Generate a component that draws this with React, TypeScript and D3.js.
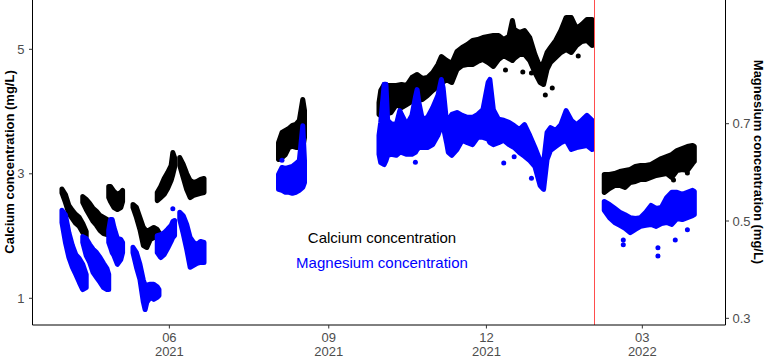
import React from 'react';
import * as d3 from 'd3';

// each row: date, lowest and highest reading of that day; null = gap in the record
type Row = [string, number, number] | null;
type Dot = [string, number];

const dateRange = ['2021-03-14', '2022-04-18'];
const xTickDates = ['2021-06-01', '2021-09-01', '2021-12-01', '2022-03-01'];
const caTicks = [1, 3, 5];
const mgTicks = [0.3, 0.5, 0.7];
const caDomain = [0.571, 5.792];
const mgDomain = [0.2863, 0.9542];
const cutDate = '2022-02-01';

const caSpring: Row[] = [
  ['2021-03-31', 2.692, 2.756], ['2021-04-02', 2.539, 2.668], ['2021-04-04', 2.362, 2.491],
  ['2021-04-06', 2.282, 2.411], ['2021-04-08', 2.202, 2.346], ['2021-04-10', 2.154, 2.298],
  ['2021-04-12', 2.057, 2.202], ['2021-04-14', 1.993, 2.073],
  null,
  ['2021-04-12', 2.539, 2.635], ['2021-04-14', 2.427, 2.587], ['2021-04-16', 2.330, 2.523],
  ['2021-04-18', 2.234, 2.443], ['2021-04-20', 2.170, 2.395], ['2021-04-22', 2.089, 2.330],
  ['2021-04-24', 2.041, 2.298], ['2021-04-26', 2.025, 2.266], ['2021-04-28', 2.025, 2.218],
  null,
  ['2021-04-27', 2.619, 2.796], ['2021-04-28', 2.555, 2.796], ['2021-04-30', 2.459, 2.716],
  ['2021-05-02', 2.427, 2.668], ['2021-05-04', 2.459, 2.700], ['2021-05-05', 2.555, 2.732],
  null,
  ['2021-05-11', 2.459, 2.507], ['2021-05-13', 2.298, 2.459], ['2021-05-15', 2.105, 2.298],
  ['2021-05-17', 1.848, 2.138], ['2021-05-19', 1.816, 2.073], ['2021-05-21', 1.945, 2.105],
  ['2021-05-23', 1.977, 2.138], ['2021-05-25', 1.977, 2.105], ['2021-05-26', 2.009, 2.057],
  null,
  ['2021-05-25', 2.571, 2.700], ['2021-05-27', 2.619, 2.796], ['2021-05-29', 2.668, 2.925],
  ['2021-05-31', 2.764, 3.021], ['2021-06-02', 2.892, 3.133], ['2021-06-03', 2.989, 3.342],
  ['2021-06-04', 3.101, 3.262],
  null,
  ['2021-06-07', 3.133, 3.262], ['2021-06-09', 2.941, 3.150], ['2021-06-11', 2.748, 3.005],
  ['2021-06-13', 2.619, 2.892], ['2021-06-15', 2.652, 2.860], ['2021-06-17', 2.668, 2.876],
  ['2021-06-19', 2.684, 2.909], ['2021-06-21', 2.700, 2.925],
];

const mgSpring: Row[] = [
  ['2021-03-31', 0.497, 0.522], ['2021-04-02', 0.456, 0.513], ['2021-04-04', 0.425, 0.476],
  ['2021-04-06', 0.405, 0.450], ['2021-04-08', 0.390, 0.431], ['2021-04-10', 0.374, 0.423],
  ['2021-04-12', 0.359, 0.411], ['2021-04-14', 0.363, 0.390],
  null,
  ['2021-04-12', 0.456, 0.468], ['2021-04-14', 0.429, 0.464], ['2021-04-16', 0.415, 0.452],
  ['2021-04-18', 0.394, 0.442], ['2021-04-20', 0.384, 0.435], ['2021-04-22', 0.374, 0.425],
  ['2021-04-24', 0.363, 0.413], ['2021-04-26', 0.359, 0.402], ['2021-04-27', 0.359, 0.390],
  null,
  ['2021-04-27', 0.456, 0.481], ['2021-04-28', 0.446, 0.503], ['2021-04-29', 0.435, 0.503],
  ['2021-04-30', 0.429, 0.487], ['2021-05-02', 0.411, 0.464], ['2021-05-04', 0.421, 0.462],
  ['2021-05-05', 0.435, 0.456],
  null,
  ['2021-05-11', 0.435, 0.446], ['2021-05-13', 0.405, 0.435], ['2021-05-15', 0.380, 0.411],
  ['2021-05-17', 0.333, 0.378], ['2021-05-18', 0.318, 0.368], ['2021-05-19', 0.333, 0.368],
  ['2021-05-21', 0.343, 0.370], ['2021-05-23', 0.339, 0.370], ['2021-05-25', 0.343, 0.365],
  ['2021-05-26', 0.347, 0.359],
  null,
  ['2021-05-25', 0.435, 0.470], ['2021-05-27', 0.425, 0.472], ['2021-05-29', 0.431, 0.476],
  ['2021-05-31', 0.444, 0.483], ['2021-06-02', 0.458, 0.491], ['2021-06-03', 0.466, 0.499],
  ['2021-06-04', 0.470, 0.501],
  null,
  ['2021-06-07', 0.503, 0.518], ['2021-06-09', 0.474, 0.511], ['2021-06-11', 0.442, 0.493],
  ['2021-06-13', 0.405, 0.466], ['2021-06-15', 0.409, 0.456], ['2021-06-17', 0.413, 0.452],
  ['2021-06-19', 0.415, 0.458], ['2021-06-21', 0.415, 0.456],
];

const caAugust: Row[] = [
  ['2021-08-03', 3.230, 3.503], ['2021-08-05', 3.262, 3.664], ['2021-08-07', 3.310, 3.696],
  ['2021-08-09', 3.423, 3.728], ['2021-08-11', 3.439, 3.776], ['2021-08-13', 3.423, 3.792],
  ['2021-08-15', 3.423, 3.856], ['2021-08-17', 3.423, 4.194], ['2021-08-18', 3.583, 4.017],
];

const mgAugust: Row[] = [
  ['2021-08-03', 0.565, 0.596], ['2021-08-05', 0.563, 0.610], ['2021-08-07', 0.559, 0.608],
  ['2021-08-09', 0.559, 0.610], ['2021-08-11', 0.557, 0.612], ['2021-08-13', 0.559, 0.618],
  ['2021-08-15', 0.563, 0.624], ['2021-08-17', 0.569, 0.696], ['2021-08-18', 0.579, 0.624],
];

const caWinter: Row[] = [
  ['2021-09-30', 3.953, 4.145], ['2021-10-01', 3.937, 4.338], ['2021-10-03', 3.937, 4.435],
  ['2021-10-05', 3.969, 4.419], ['2021-10-07', 3.985, 4.419], ['2021-10-10', 4.113, 4.419],
  ['2021-10-13', 4.065, 4.435], ['2021-10-16', 4.113, 4.419], ['2021-10-19', 4.162, 4.547],
  ['2021-10-22', 4.178, 4.595], ['2021-10-25', 4.194, 4.531], ['2021-10-28', 4.258, 4.547],
  ['2021-10-31', 4.338, 4.627], ['2021-11-03', 4.402, 4.756], ['2021-11-05', 4.451, 4.884],
  ['2021-11-08', 4.515, 4.820], ['2021-11-11', 4.467, 4.772], ['2021-11-14', 4.676, 4.965],
  ['2021-11-17', 4.740, 5.029], ['2021-11-20', 4.756, 5.077], ['2021-11-23', 4.756, 5.141],
  ['2021-11-26', 4.804, 5.158], ['2021-11-29', 4.836, 5.190], ['2021-12-02', 4.788, 5.206],
  ['2021-12-05', 4.724, 5.222], ['2021-12-08', 4.836, 5.222], ['2021-12-11', 4.900, 5.158],
  ['2021-12-14', 4.852, 5.206], ['2021-12-16', 4.820, 5.463], ['2021-12-17', 4.852, 5.318],
  ['2021-12-20', 4.917, 5.270], ['2021-12-23', 4.917, 5.302], ['2021-12-26', 4.820, 5.190],
  ['2021-12-29', 4.627, 4.917], ['2022-01-01', 4.467, 4.708], ['2022-01-03', 4.435, 4.788],
  ['2022-01-05', 4.676, 4.949], ['2022-01-07', 4.788, 5.029], ['2022-01-10', 4.868, 5.141],
  ['2022-01-13', 4.949, 5.302], ['2022-01-16', 4.997, 5.511], ['2022-01-19', 4.949, 5.511],
  ['2022-01-22', 5.061, 5.334], ['2022-01-25', 5.125, 5.398], ['2022-01-28', 5.141, 5.479],
  ['2022-01-31', 5.061, 5.479],
];

const mgWinter: Row[] = [
  ['2021-09-30', 0.637, 0.676], ['2021-10-01', 0.620, 0.703], ['2021-10-03', 0.616, 0.781],
  ['2021-10-04', 0.624, 0.781], ['2021-10-05', 0.635, 0.707], ['2021-10-07', 0.637, 0.700],
  ['2021-10-10', 0.635, 0.698], ['2021-10-12', 0.641, 0.727], ['2021-10-13', 0.641, 0.719],
  ['2021-10-16', 0.637, 0.698], ['2021-10-19', 0.637, 0.717], ['2021-10-21', 0.641, 0.754],
  ['2021-10-22', 0.647, 0.770], ['2021-10-23', 0.651, 0.744], ['2021-10-25', 0.651, 0.709],
  ['2021-10-28', 0.651, 0.713], ['2021-10-31', 0.657, 0.733], ['2021-11-03', 0.676, 0.758],
  ['2021-11-05', 0.696, 0.791], ['2021-11-06', 0.696, 0.774], ['2021-11-08', 0.661, 0.703],
  ['2021-11-09', 0.641, 0.707], ['2021-11-11', 0.635, 0.719], ['2021-11-14', 0.647, 0.723],
  ['2021-11-17', 0.666, 0.717], ['2021-11-20', 0.661, 0.713], ['2021-11-23', 0.657, 0.713],
  ['2021-11-26', 0.672, 0.719], ['2021-11-29', 0.672, 0.729], ['2021-12-02', 0.668, 0.785],
  ['2021-12-03', 0.661, 0.791], ['2021-12-05', 0.657, 0.729], ['2021-12-08', 0.661, 0.709],
  ['2021-12-11', 0.666, 0.707], ['2021-12-14', 0.657, 0.703], ['2021-12-17', 0.651, 0.696],
  ['2021-12-20', 0.641, 0.688], ['2021-12-23', 0.633, 0.698], ['2021-12-26', 0.624, 0.676],
  ['2021-12-29', 0.612, 0.651], ['2022-01-01', 0.573, 0.624], ['2022-01-03', 0.565, 0.620],
  ['2022-01-05', 0.626, 0.682], ['2022-01-07', 0.645, 0.692], ['2022-01-10', 0.653, 0.686],
  ['2022-01-13', 0.661, 0.698], ['2022-01-16', 0.666, 0.727], ['2022-01-19', 0.647, 0.707],
  ['2022-01-22', 0.651, 0.698], ['2022-01-25', 0.653, 0.707], ['2022-01-28', 0.655, 0.717],
  ['2022-01-31', 0.647, 0.707],
];

const caLate: Row[] = [
  ['2022-02-07', 2.700, 2.989], ['2022-02-10', 2.764, 2.989], ['2022-02-13', 2.812, 3.005],
  ['2022-02-16', 2.812, 3.037], ['2022-02-19', 2.780, 3.053], ['2022-02-22', 2.860, 3.069],
  ['2022-02-25', 2.876, 3.117], ['2022-02-28', 2.909, 3.133], ['2022-03-03', 2.909, 3.133],
  ['2022-03-06', 2.941, 3.150], ['2022-03-09', 2.973, 3.198], ['2022-03-12', 2.989, 3.246],
  ['2022-03-15', 3.005, 3.278], ['2022-03-18', 2.941, 3.310], ['2022-03-21', 3.053, 3.374],
  ['2022-03-24', 3.069, 3.406], ['2022-03-27', 3.053, 3.439], ['2022-03-30', 3.166, 3.455],
  ['2022-03-31', 3.198, 3.439],
];

const mgLate: Row[] = [
  ['2022-02-07', 0.522, 0.540], ['2022-02-10', 0.507, 0.534], ['2022-02-13', 0.497, 0.526],
  ['2022-02-16', 0.491, 0.518], ['2022-02-19', 0.485, 0.513], ['2022-02-22', 0.476, 0.507],
  ['2022-02-25', 0.483, 0.505], ['2022-02-28', 0.489, 0.507], ['2022-03-03', 0.491, 0.518],
  ['2022-03-06', 0.493, 0.532], ['2022-03-09', 0.489, 0.526], ['2022-03-12', 0.495, 0.528],
  ['2022-03-15', 0.497, 0.548], ['2022-03-18', 0.493, 0.559], ['2022-03-21', 0.505, 0.559],
  ['2022-03-24', 0.503, 0.555], ['2022-03-27', 0.507, 0.559], ['2022-03-30', 0.511, 0.563],
  ['2022-03-31', 0.513, 0.561],
];

// single readings away from the main band
const caStray: Dot[] = [
  ['2021-12-12', 4.668], ['2021-12-22', 4.635], ['2021-12-27', 4.619], ['2022-01-04', 4.266],
  ['2022-01-08', 4.378], ['2022-01-23', 4.892], ['2022-03-19', 2.900], ['2022-03-27', 3.013],
];
const mgStray: Dot[] = [
  ['2021-06-03', 0.525], ['2021-08-05', 0.625], ['2021-10-21', 0.621], ['2021-12-11', 0.619],
  ['2021-12-17', 0.632], ['2021-12-27', 0.588], ['2022-02-18', 0.461], ['2022-02-18', 0.451],
  ['2022-03-10', 0.445], ['2022-03-10', 0.428], ['2022-03-20', 0.461], ['2022-03-27', 0.482],
];

const FONT = '"Liberation Sans", Arial, sans-serif';

export default function App() {
  const width = 767, height = 358;
  const left = 32.5, right = 725.5, top = 0, bottom = 325;
  const parse = d3.timeParse('%Y-%m-%d');

  const x = d3.scaleTime().domain(dateRange.map(s => parse(s)!)).range([left, right]);
  const yCa = d3.scaleLinear().domain(caDomain).range([bottom, top]);
  const yMg = d3.scaleLinear().domain(mgDomain).range([bottom, top]);

  const band = (y: d3.ScaleLinear<number, number>) =>
    d3.area<Row>()
      .defined(d => d !== null)
      .x(d => x(parse(d![0])!))
      .y0(d => y(d![1]))
      .y1(d => y(d![2]));

  const caArea = band(yCa);
  const mgArea = band(yMg);
  const r = 2.5;

  const bandStyle = (c: string) => ({
    fill: c, stroke: c, strokeWidth: r * 2, strokeLinejoin: 'round' as const, strokeLinecap: 'round' as const,
  });

  const fmtM = d3.timeFormat('%m');
  const fmtY = d3.timeFormat('%Y');
  const cutX = Math.round(x(parse(cutDate)!)) + 0.5;

  return (
    <svg width={width} height={height} style={{ position: 'absolute', left: 0, top: 0, background: '#fff' }}
      fontFamily={FONT}>
      <rect width={width} height={height} fill="#fff" />

      {[caSpring, caAugust, caWinter, caLate].map((rows, i) => (
        <path key={'ca' + i} d={caArea(rows) || ''} {...bandStyle('#000000')} />
      ))}
      {caStray.map((d, i) => (
        <circle key={'cs' + i} cx={x(parse(d[0])!)} cy={yCa(d[1])} r={r} fill="#000" />
      ))}
      {[mgSpring, mgAugust, mgWinter, mgLate].map((rows, i) => (
        <path key={'mg' + i} d={mgArea(rows) || ''} {...bandStyle('#0000FF')} />
      ))}
      {mgStray.map((d, i) => (
        <circle key={'ms' + i} cx={x(parse(d[0])!)} cy={yMg(d[1])} r={r} fill="#0000FF" />
      ))}

      <line x1={cutX} x2={cutX} y1={top} y2={bottom} stroke="#ff4d4d" strokeWidth={1} />

      {/* axes */}
      <line x1={left} x2={left} y1={top} y2={bottom} stroke="#000" strokeWidth={1} />
      <line x1={right} x2={right} y1={top} y2={bottom} stroke="#000" strokeWidth={1} />
      <line x1={left} x2={right} y1={bottom} y2={bottom} stroke="#000" strokeWidth={1} />

      {xTickDates.map(s => {
        const tx = x(parse(s)!);
        return (
          <g key={s}>
            <line x1={tx} x2={tx} y1={bottom} y2={bottom + 3.5} stroke="#333" strokeWidth={1} />
            <text x={tx} y={342} textAnchor="middle" fontSize={13} fill="#4D4D4D">{fmtM(parse(s)!)}</text>
            <text x={tx} y={355.5} textAnchor="middle" fontSize={13} fill="#4D4D4D">{fmtY(parse(s)!)}</text>
          </g>
        );
      })}

      {caTicks.map(v => (
        <g key={'yc' + v}>
          <line x1={left - 3.5} x2={left} y1={yCa(v)} y2={yCa(v)} stroke="#333" strokeWidth={1} />
          <text x={left - 8} y={yCa(v)} dy="0.35em" textAnchor="end" fontSize={13} fill="#4D4D4D">{v}</text>
        </g>
      ))}
      {mgTicks.map(v => (
        <g key={'ym' + v}>
          <line x1={right} x2={right + 3.5} y1={yMg(v)} y2={yMg(v)} stroke="#333" strokeWidth={1} />
          <text x={right + 7} y={yMg(v)} dy="0.35em" textAnchor="start" fontSize={13} fill="#4D4D4D">{v.toFixed(1)}</text>
        </g>
      ))}

      <text transform={`translate(13.5, 162) rotate(-90)`} textAnchor="middle" fontSize={13} fontWeight="bold" fill="#000">
        Calcium concentration (mg/L)
      </text>
      <text transform={`translate(754, 162) rotate(90)`} textAnchor="middle" fontSize={13} fontWeight="bold" fill="#000">
        Magnesium concentration (mg/L)
      </text>

      <text x={382} y={242.5} textAnchor="middle" fontSize={15} fill="#000">Calcium concentration</text>
      <text x={382} y={267.5} textAnchor="middle" fontSize={15} fill="#0000FF">Magnesium concentration</text>
    </svg>
  );
}
